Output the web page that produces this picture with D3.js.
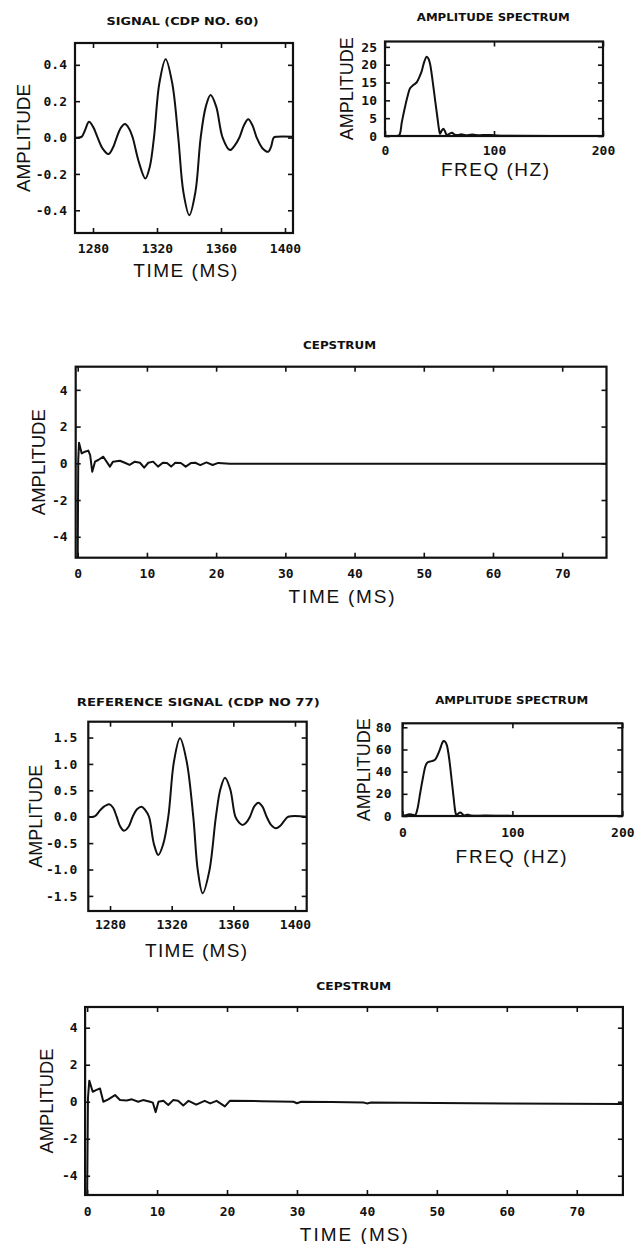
<!DOCTYPE html>
<html>
<head>
<meta charset="utf-8">
<script src="https://cdn.jsdelivr.net/npm/d3@7"></script>
<style>
  body { margin: 0; background: #fff; }
  svg { display: block; background: #fff; }
  .tick text { font-family: "DejaVu Sans Mono", monospace; font-weight: bold; font-size: 13px; fill: #111; }
  .ptitle { font-family: "DejaVu Sans Condensed", "DejaVu Sans", sans-serif; font-weight: bold; font-size: 10.5px; fill: #111; }
  .axt { font-family: "Liberation Sans", Arial, sans-serif; font-size: 19px; fill: #111; }
</style>
</head>
<body>
<svg id="chart" width="641" height="1244"></svg>
<script>
// ---------------- DATA ----------------
// Signal (CDP no. 60)
const sig1Time = [1268.75,1271,1273,1275,1277.5,1280,1282.9,1286,1289.6,1292.5,1294.8,1297.5,1300,1302.5,1304.8,1308.5,1312.7,1315.5,1318.1,1321.5,1325.4,1329.5,1333.3,1336.5,1340.2,1344,1347.3,1350.5,1353.5,1357,1361,1365.6,1368.5,1371.5,1374.5,1377,1379.5,1382.3,1386,1389.6,1391.3,1393,1395,1405];
const sig1Amp  = [0,0,0.005,0.04,0.087,0.06,0,-0.06,-0.091,-0.055,0,0.055,0.074,0.05,0,-0.13,-0.225,-0.16,0,0.3,0.431,0.3,0,-0.3,-0.427,-0.3,0,0.17,0.234,0.17,0,-0.069,-0.045,0,0.07,0.1,0.07,0,-0.06,-0.078,-0.05,0,0.005,0.005];
const sig1XTicks = [1280,1320,1360,1400];
const sig1XLabels = ["1280","1320","1360","1400"];
const sig1YTicks = [-0.4,-0.2,0,0.2,0.4];
const sig1YLabels = ["-0.4","-0.2","0.0","0.2","0.4"];

// Amplitude spectrum (top)
const spec1Freq = [0,10,13,15.5,18.4,21,23,26,29,31.5,33.7,36,38.3,40,41.5,43,44.4,46.2,48,49.5,50.5,52,53.6,55.2,56.7,59,61.5,64,67,70,74,80,86,92,100,110,200];
const spec1Amp  = [0,0,0.2,4,8.2,11.5,13.4,14.3,15,16.5,18.2,20.8,22.2,21.6,20,17,13.8,9.5,5.4,2,0.6,1.5,2,1.2,0.3,0.6,0.9,0.4,0.3,0.5,0.2,0.4,0.2,0.3,0.2,0.1,0];
const spec1XTicks = [0,100,200];
const spec1XLabels = ["0","100","200"];
const spec1YTicks = [0,5,10,15,20,25];
const spec1YLabels = ["0","5","10","15","20","25"];

// Cepstrum (top)
const cep1Time = [0,0.08,0.19,0.58,1.05,1.53,1.8,2.1,2.5,2.97,3.7,4.65,5.1,6.1,6.8,7.5,8.26,9.0,9.6,10.2,10.9,11.6,12.3,12.9,13.5,14.1,14.9,15.6,16.4,17,17.7,18.6,19.5,20.3,22,40,76.4];
const cep1Amp  = [-5.3,0.2,1.12,0.54,0.63,0.69,0.45,-0.46,0.09,0.18,0.36,-0.18,0.09,0.14,0.03,-0.09,0.09,0.03,-0.24,0.03,0.09,-0.18,0.03,0.02,-0.18,0.03,0.02,-0.18,0.02,0.03,-0.1,0.05,-0.09,0.02,-0.02,-0.03,-0.03];
const cepXTicks = [0,10,20,30,40,50,60,70];
const cepXLabels = ["0","10","20","30","40","50","60","70"];
const cepYTicks = [-4,-2,0,2,4];
const cepYLabels = ["-4","-2","0","2","4"];

// Reference signal (CDP no 77)
const sig2Time = [1265.9,1270,1273.5,1276.5,1279.5,1282,1284.3,1286.7,1289.1,1292,1294.7,1297.5,1300.5,1303,1305.3,1308.5,1311.3,1314.5,1317.8,1321.5,1325.4,1329.7,1334,1337,1340.1,1344.4,1348.7,1351.6,1354.6,1358,1361.3,1363.7,1366,1368.4,1370.8,1373.5,1376.2,1378.9,1381.6,1384.6,1387.6,1390.5,1393,1395.6,1407.6];
const sig2Amp  = [0,0.005,0.12,0.2,0.235,0.17,0,-0.19,-0.265,-0.19,0,0.14,0.19,0.12,0,-0.52,-0.725,-0.52,0,1.05,1.485,1.05,0,-1.03,-1.45,-1.03,0,0.52,0.74,0.52,0,-0.11,-0.157,-0.11,0,0.19,0.265,0.19,0,-0.16,-0.22,-0.17,-0.08,0,0];
const sig2XTicks = [1280,1320,1360,1400];
const sig2XLabels = ["1280","1320","1360","1400"];
const sig2YTicks = [-1.5,-1.0,-0.5,0,0.5,1.0,1.5];
const sig2YLabels = ["-1.5","-1.0","-0.5","0.0","0.5","1.0","1.5"];

// Amplitude spectrum (bottom)
const spec2Freq = [0,3,6,9,11.6,13.5,16.1,18.5,20.7,22,23.7,26.5,29.8,32,34.3,36,37.3,38.8,40.4,42,43.4,45,46.4,47.6,48.6,49.5,51,52.6,54.2,56,58,60,62,65,75,90,100,200];
const spec2Amp  = [0,0.8,1.5,1.2,0.8,6,20.7,34,44.4,47.5,48.9,49.5,51,55,60.7,65.5,67.6,67,63.7,55,44.4,30,17.8,7,1.8,0.8,2.5,3.2,2,0.5,1,1.2,0.5,0.3,0.4,0.2,0.1,0];
const spec2XTicks = [0,100,200];
const spec2XLabels = ["0","100","200"];
const spec2YTicks = [0,20,40,60,80];
const spec2YLabels = ["0","20","40","60","80"];

// Cepstrum (bottom)
const cep2Time = [0,0.12,0.31,0.8,1.27,1.84,2.32,3.03,3.99,4.7,5.66,6.4,7.3,8.0,9.0,9.4,9.8,10.2,10.9,11.6,12.3,13.0,13.75,14.5,15.6,16.8,17.6,18.5,19.7,20.4,25,29.5,30,30.6,35,39.5,40,40.6,50,60,76.6];
const cep2Amp  = [-5.3,0.2,1.14,0.54,0.63,0.72,0,0.13,0.36,0.09,0.07,0.13,0,0.09,0,-0.05,-0.56,0,0.05,-0.18,0.09,0.05,-0.2,0.05,-0.16,0.05,-0.09,0.05,-0.25,0.05,0.03,0,-0.08,0,-0.01,-0.04,-0.09,-0.04,-0.07,-0.1,-0.12];

// Text
const titles = ["SIGNAL (CDP NO. 60)","AMPLITUDE SPECTRUM","CEPSTRUM","REFERENCE SIGNAL (CDP NO 77)","AMPLITUDE SPECTRUM","CEPSTRUM"];
const yTitle = "AMPLITUDE";
const timeTitle = "TIME (MS)";
const freqTitle = "FREQ (HZ)";

// ---------------- DRAW ----------------
const svg = d3.select("#chart");
const INK = "#111";

function panel(o) {
  const x = d3.scaleLinear().domain(o.xd).range([o.l, o.r]);
  const y = d3.scaleLinear().domain(o.yd).range([o.b, o.t]);
  const cid = "clip" + o.id;
  svg.append("clipPath").attr("id", cid).append("rect")
    .attr("x", o.l).attr("y", o.t).attr("width", o.r - o.l).attr("height", o.b - o.t);

  const line = d3.line().x(d => x(d[0])).y(d => y(d[1])).curve(o.curve);
  svg.append("path").datum(d3.zip(o.xs, o.ys))
    .attr("d", line).attr("fill", "none").attr("stroke", INK)
    .attr("stroke-width", 2).attr("stroke-linejoin", "round")
    .attr("clip-path", `url(#${cid})`);

  const style = g => {
    g.select(".domain").remove();
    g.selectAll(".tick line").attr("stroke", INK).attr("stroke-width", 1.6);
  };
  svg.append("g").attr("transform", `translate(0,${o.b})`)
    .call(d3.axisBottom(x).tickValues(o.xt).tickFormat((d, i) => o.xl[i]).tickSize(-5).tickPadding(o.xpad))
    .call(style);
  svg.append("g").attr("transform", `translate(0,${o.t})`)
    .call(d3.axisTop(x).tickValues(o.xt).tickFormat("").tickSize(-5))
    .call(style);
  svg.append("g").attr("transform", `translate(${o.l},0)`)
    .call(d3.axisLeft(y).tickValues(o.yt).tickFormat((d, i) => o.yl[i]).tickSize(-5).tickPadding(o.ypad))
    .call(style);
  svg.append("g").attr("transform", `translate(${o.r},0)`)
    .call(d3.axisRight(y).tickValues(o.yt).tickFormat("").tickSize(-5))
    .call(style);

  svg.append("rect").attr("x", o.l).attr("y", o.t)
    .attr("width", o.r - o.l).attr("height", o.b - o.t)
    .attr("fill", "none").attr("stroke", INK).attr("stroke-width", 2.2);

  svg.append("text").attr("class", "ptitle")
    .attr("x", o.title.x).attr("y", o.title.y).attr("text-anchor", "middle")
    .attr("textLength", o.title.w).attr("lengthAdjust", "spacingAndGlyphs")
    .text(o.title.text);

  svg.append("text").attr("class", "axt")
    .attr("transform", `translate(${o.ylab.x},${(o.t + o.b) / 2}) rotate(-90)`)
    .attr("text-anchor", "middle")
    .attr("textLength", o.ylab.w).attr("lengthAdjust", "spacingAndGlyphs")
    .text(yTitle);

  svg.append("text").attr("class", "axt")
    .attr("x", o.xlab.x).attr("y", o.xlab.y).attr("text-anchor", "middle")
    .attr("textLength", o.xlab.w).attr("lengthAdjust", "spacing")
    .text(o.xlab.text);
}

const smooth = d3.curveCatmullRom.alpha(0.5);

panel({ id: 1, l: 75, r: 293, t: 43, b: 233, xd: [1268.75, 1405], yd: [-0.525, 0.52],
  xs: sig1Time, ys: sig1Amp, curve: smooth,
  xt: sig1XTicks, xl: sig1XLabels, yt: sig1YTicks, yl: sig1YLabels, xpad: 11, ypad: 8,
  title: { text: titles[0], x: 182.5, y: 25, w: 152 },
  ylab: { x: 29.5, w: 108 }, xlab: { text: timeTitle, x: 185.3, y: 277, w: 104 } });

panel({ id: 2, l: 385, r: 603, t: 41.5, b: 136, xd: [0, 200], yd: [0, 26.5],
  xs: spec1Freq, ys: spec1Amp, curve: smooth,
  xt: spec1XTicks, xl: spec1XLabels, yt: spec1YTicks, yl: spec1YLabels, xpad: 10, ypad: 8,
  title: { text: titles[1], x: 493.3, y: 20.7, w: 153 },
  ylab: { x: 353.3, w: 103 }, xlab: { text: freqTitle, x: 495, y: 176, w: 108 } });

panel({ id: 3, l: 75.7, r: 606.5, t: 366.7, b: 557.7, xd: [-0.29, 76.4], yd: [-5.14, 5.26],
  xs: cep1Time, ys: cep1Amp, curve: d3.curveLinear,
  xt: cepXTicks, xl: cepXLabels, yt: cepYTicks, yl: cepYLabels, xpad: 11.5, ypad: 8,
  title: { text: titles[2], x: 339.5, y: 349, w: 73 },
  ylab: { x: 45, w: 106 }, xlab: { text: timeTitle, x: 341.5, y: 603, w: 106 } });

panel({ id: 4, l: 88.3, r: 306.7, t: 721.7, b: 911, xd: [1265.9, 1407.6], yd: [-1.786, 1.8],
  xs: sig2Time, ys: sig2Amp, curve: smooth,
  xt: sig2XTicks, xl: sig2XLabels, yt: sig2YTicks, yl: sig2YLabels, xpad: 9, ypad: 11,
  title: { text: titles[3], x: 198.3, y: 706, w: 243 },
  ylab: { x: 41.7, w: 103 }, xlab: { text: timeTitle, x: 196, y: 957, w: 102 } });

panel({ id: 5, l: 402.5, r: 622.3, t: 723.3, b: 816, xd: [0, 200], yd: [0, 83.6],
  xs: spec2Freq, ys: spec2Amp, curve: smooth,
  xt: spec2XTicks, xl: spec2XLabels, yt: spec2YTicks, yl: spec2YLabels, xpad: 11.5, ypad: 11,
  title: { text: titles[4], x: 511.7, y: 703.5, w: 153 },
  ylab: { x: 370, w: 103 }, xlab: { text: freqTitle, x: 511, y: 863, w: 111 } });

panel({ id: 6, l: 85.1, r: 622.9, t: 1007, b: 1195, xd: [-0.29, 76.6], yd: [-5.04, 5.12],
  xs: cep2Time, ys: cep2Amp, curve: d3.curveLinear,
  xt: cepXTicks, xl: cepXLabels, yt: cepYTicks, yl: cepYLabels, xpad: 12, ypad: 7.5,
  title: { text: titles[5], x: 353.8, y: 989.5, w: 75 },
  ylab: { x: 53, w: 105 }, xlab: { text: timeTitle, x: 353.8, y: 1241, w: 108 } });
</script>
</body>
</html>
